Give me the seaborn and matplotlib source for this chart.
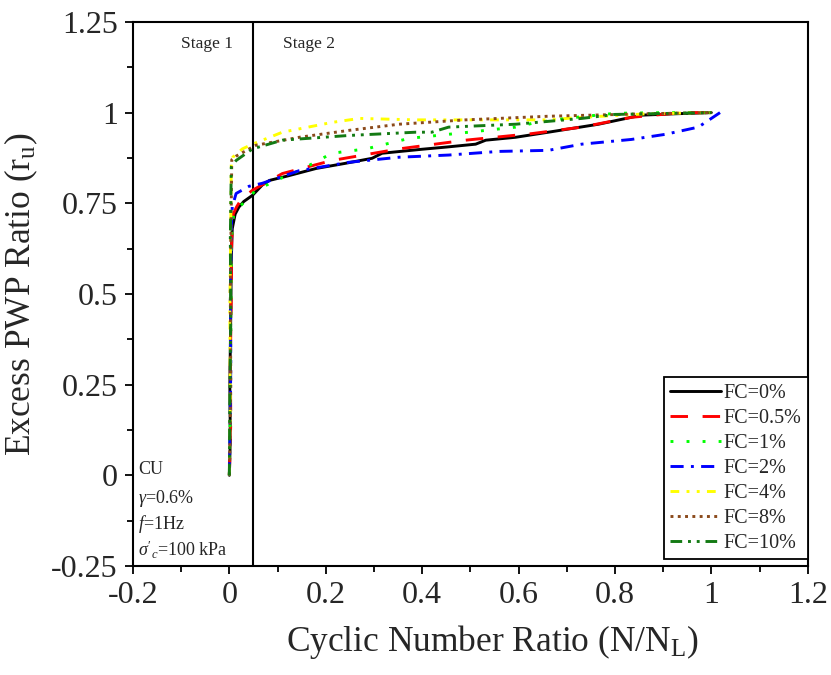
import matplotlib
matplotlib.use("Agg")
import matplotlib.pyplot as plt
import seaborn as sns
from matplotlib.ticker import MultipleLocator

# data
labels = ["FC=0%", "FC=0.5%", "FC=1%", "FC=2%", "FC=4%", "FC=8%", "FC=10%"]

x_fc0 = [0, 0.002, 0.001, 0.003, 0.004, 0.006, 0.012, 0.02, 0.03, 0.048, 0.068, 0.083, 0.12, 0.18, 0.24,
         0.296, 0.317, 0.40, 0.45, 0.511, 0.532, 0.594, 0.662, 0.766, 0.855, 0.93, 1.0]
y_fc0 = [0, 0.1, 0.25, 0.45, 0.6, 0.68, 0.72, 0.74, 0.755, 0.772, 0.80, 0.813, 0.825, 0.846, 0.86,
         0.874, 0.888, 0.899, 0.905, 0.913, 0.924, 0.932, 0.946, 0.968, 0.993, 0.997, 1.0]

x_fc05 = [0, 0.003, 0.002, 0.004, 0.005, 0.008, 0.015, 0.021, 0.035, 0.048, 0.11, 0.213, 0.352, 0.49,
          0.627, 0.731, 0.834, 0.938, 1.0]
y_fc05 = [0, 0.15, 0.3, 0.5, 0.65, 0.72, 0.74, 0.753, 0.772, 0.786, 0.832, 0.868, 0.9, 0.924,
          0.942, 0.96, 0.987, 1.0, 1.0]

x_fc1 = [0, 0.002, 0.003, 0.004, 0.006, 0.01, 0.021, 0.055, 0.1, 0.145, 0.213, 0.284, 0.373, 0.497,
         0.594, 0.627, 0.697, 0.8, 0.9, 1.0]
y_fc1 = [0, 0.2, 0.4, 0.6, 0.7, 0.72, 0.74, 0.786, 0.815, 0.84, 0.888, 0.9, 0.929, 0.946,
         0.96, 0.97, 0.984, 0.998, 1.0, 1.0]

x_fc2 = [0, 0.001, 0.003, 0.002, 0.004, 0.006, 0.014, 0.041, 0.068, 0.145, 0.248, 0.352, 0.455, 0.559,
         0.662, 0.731, 0.834, 0.904, 0.973, 1.018]
y_fc2 = [0, 0.1, 0.3, 0.5, 0.68, 0.74, 0.777, 0.797, 0.805, 0.84, 0.863, 0.877, 0.883, 0.893,
         0.896, 0.913, 0.926, 0.94, 0.96, 1.0]

x_fc4 = [0, 0.002, 0.001, 0.003, 0.004, 0.007, 0.027, 0.048, 0.11, 0.213, 0.27, 0.387, 0.524, 0.66,
         0.731, 0.87, 1.0]
y_fc4 = [0, 0.2, 0.45, 0.7, 0.86, 0.877, 0.9, 0.913, 0.946, 0.973, 0.984, 0.98, 0.98, 0.98,
         0.987, 0.997, 1.0]

x_fc8 = [0, 0.003, 0.002, 0.004, 0.005, 0.014, 0.055, 0.145, 0.248, 0.352, 0.49, 0.662, 0.87, 1.0]
y_fc8 = [0, 0.25, 0.5, 0.75, 0.87, 0.88, 0.91, 0.932, 0.951, 0.968, 0.98, 0.99, 0.997, 1.0]

x_fc10 = [0, 0.001, 0.003, 0.002, 0.004, 0.014, 0.048, 0.11, 0.248, 0.387, 0.42, 0.455, 0.594, 0.731,
          0.8, 1.0]
y_fc10 = [0, 0.2, 0.45, 0.65, 0.85, 0.868, 0.9, 0.924, 0.937, 0.946, 0.946, 0.96, 0.968, 0.984,
          0.995, 1.0]

xs = [x_fc0, x_fc05, x_fc1, x_fc2, x_fc4, x_fc8, x_fc10]
ys = [y_fc0, y_fc05, y_fc1, y_fc2, y_fc4, y_fc8, y_fc10]
colors = ["black", "#ff0000", "#00ff00", "#0000ff", "#ffff00", "#8b4a1c", "#137a13"]
styles = ["-", (0, (6, 5)), (0, (1, 4.5)), (0, (4.5, 2.5, 1, 2.5)), (0, (3, 2.5, 1, 2.5, 1, 2.5)),
          (0, (1, 1.5)), (0, (4, 2, 1, 2, 1, 2))]

sns.set_style("ticks")
plt.rcParams["font.family"] = ["Liberation Serif", "DejaVu Serif"]
plt.rcParams["mathtext.fontset"] = "custom"
plt.rcParams["mathtext.rm"] = "Liberation Serif"
plt.rcParams["mathtext.it"] = "Liberation Serif:italic"
plt.rcParams["axes.unicode_minus"] = False

fig = plt.figure(figsize=(8.31, 6.75), dpi=100)
ax = fig.add_axes([0.160, 0.1615, 0.812, 0.806])

for i in range(len(labels)):
    sns.lineplot(x=xs[i], y=ys[i], color=colors[i], linestyle=styles[i], linewidth=2.1,
                 sort=False, estimator=None, label=labels[i], ax=ax)

ax.axvline(0.05, color="black", linewidth=1.5, zorder=0)

ax.set_xlim(-0.2, 1.2)
ax.set_ylim(-0.25, 1.25)
ax.xaxis.set_minor_locator(MultipleLocator(0.1))
ax.yaxis.set_minor_locator(MultipleLocator(0.125))
ax.set_xticks([-0.2, 0, 0.2, 0.4, 0.6, 0.8, 1.0, 1.2])
ax.set_xticklabels(["-0.2", "0", "0.2", "0.4", "0.6", "0.8", "1", "1.2"])
ax.set_yticks([-0.25, 0, 0.25, 0.5, 0.75, 1.0, 1.25])
ax.set_yticklabels(["-0.25", "0", "0.25", "0.5", "0.75", "1", "1.25"])
ax.tick_params(which="major", direction="out", length=6, width=1.3, labelsize=23, color="black", pad=5)
ax.tick_params(which="minor", direction="out", length=4, width=1.3, color="black")
for s in ax.spines.values():
    s.set_linewidth(1.5)
    s.set_color("black")

ax.set_xlabel("Cyclic Number Ratio (N/N$_\\mathregular{L}$)", fontsize=25.5, labelpad=10)
ax.xaxis.set_label_coords(0.533, -0.105)
ax.set_ylabel("Excess PWP Ratio (r$_\\mathregular{u}$)", fontsize=25.5, labelpad=8)

ax.text(-0.046, 1.19, "Stage 1", fontsize=12.5, ha="center", va="center")
ax.text(0.166, 1.19, "Stage 2", fontsize=12.5, ha="center", va="center")

ax.text(-0.19, 0.015, "CU", fontsize=13, ha="left", va="center")
ax.text(-0.19, -0.063, "$\\mathit{\\gamma}$=0.6%", fontsize=13, ha="left", va="center")
ax.text(-0.19, -0.133, "$\\mathit{f}$=1Hz", fontsize=13, ha="left", va="center")
ax.text(-0.19, -0.207, "$\\mathit{\\sigma'_c}$=100 kPa", fontsize=13, ha="left", va="center")

leg = ax.legend(loc="lower right", bbox_to_anchor=(1.0, 0.012), fontsize=14.5, frameon=True,
                fancybox=False, edgecolor="black", framealpha=1, borderaxespad=0,
                handlelength=2.5, handletextpad=0.15, labelspacing=0.3, borderpad=0.3)
leg.get_frame().set_linewidth(1.3)

fig.savefig("out.png", dpi=100)
